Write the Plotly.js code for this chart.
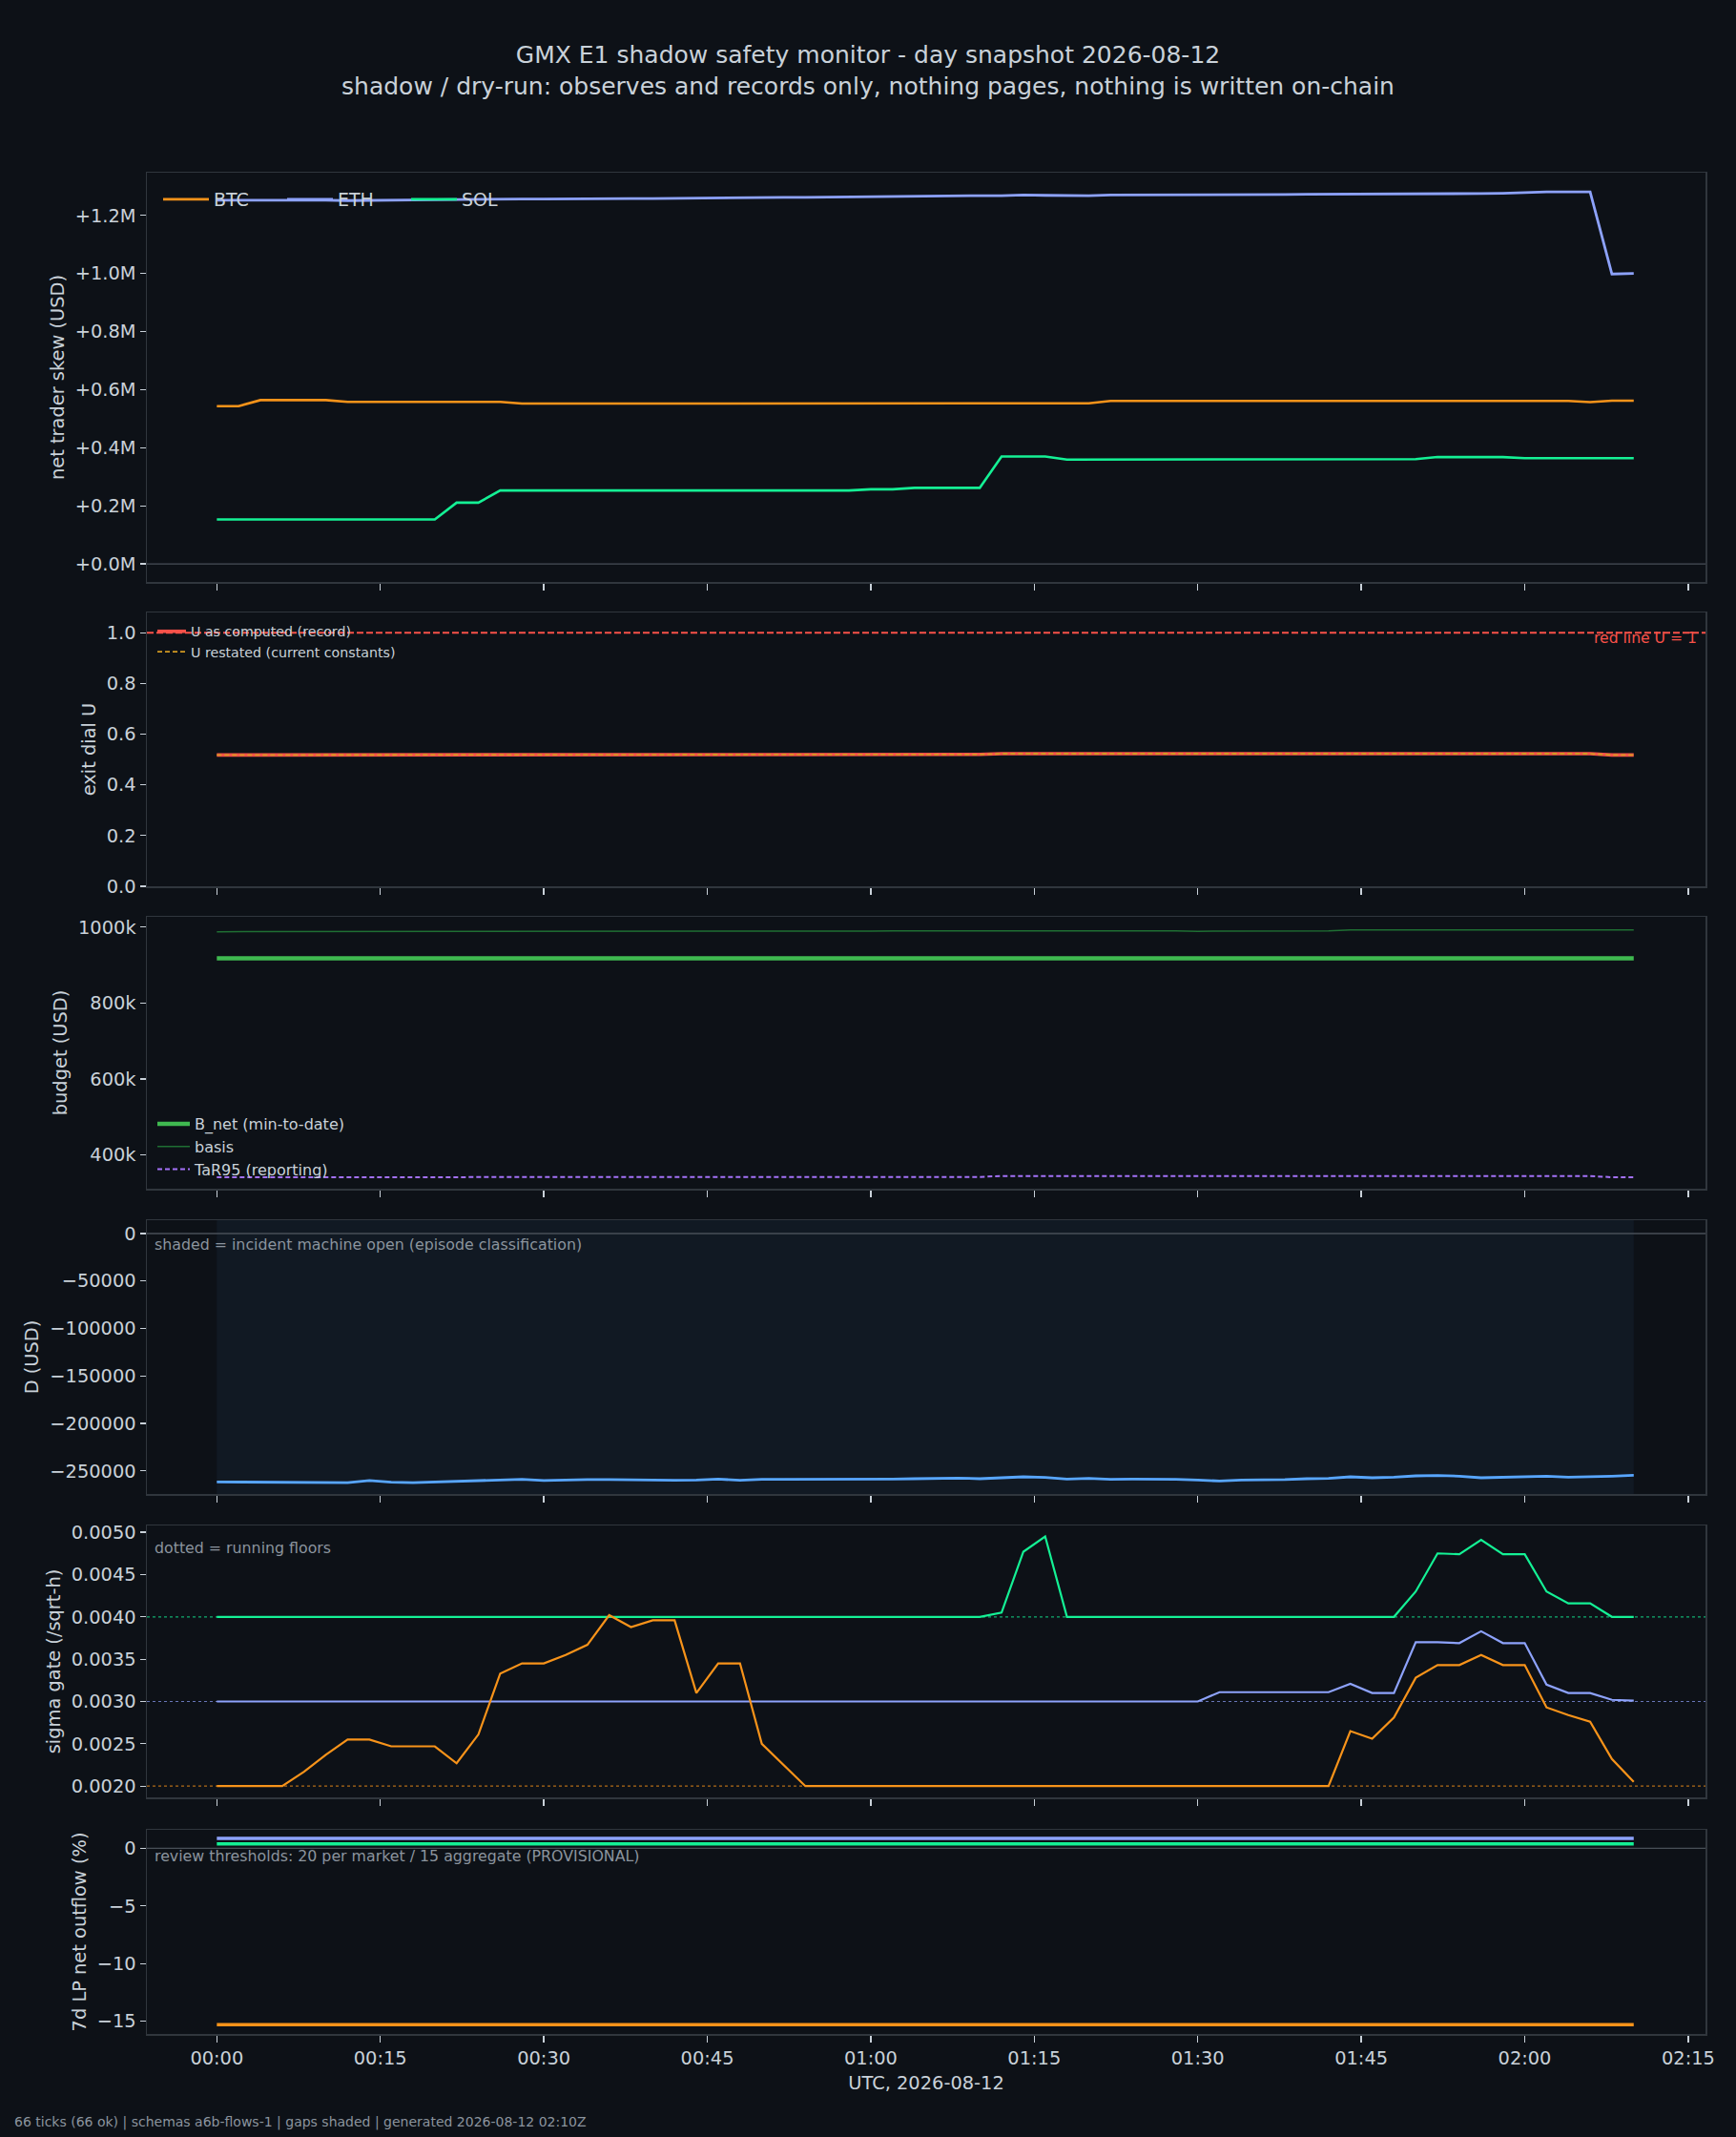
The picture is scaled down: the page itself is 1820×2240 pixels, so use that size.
<!DOCTYPE html>
<html>
<head>
<meta charset="utf-8">
<script src="https://cdn.plot.ly/plotly-3.0.1.min.js"></script>
<style>
  html, body { margin: 0; padding: 0; background: #0d1117; }
  #chart { width: 1820px; height: 2240px; }
</style>
</head>
<body>
<div id="chart"></div>
<script>
// 66 ticks, 2 minutes apart, UTC 2026-08-12
const day = '2026-08-12';
const times = [
  '00:00','00:02','00:04','00:06','00:08','00:10','00:12','00:14','00:16','00:18',
  '00:20','00:22','00:24','00:26','00:28','00:30','00:32','00:34','00:36','00:38',
  '00:40','00:42','00:44','00:46','00:48','00:50','00:52','00:54','00:56','00:58',
  '01:00','01:02','01:04','01:06','01:08','01:10','01:12','01:14','01:16','01:18',
  '01:20','01:22','01:24','01:26','01:28','01:30','01:32','01:34','01:36','01:38',
  '01:40','01:42','01:44','01:46','01:48','01:50','01:52','01:54','01:56','01:58',
  '02:00','02:02','02:04','02:06','02:08','02:10'
];

// net trader skew (USD)
const skewBTC = [
  543000,543000,564000,564000,564000,564000,558000,558000,558000,558000,
  558000,558000,558000,558000,552000,552000,552000,552000,552000,552000,
  552000,552000,552000,552000,552000,552000,552000,552000,552000,553000,
  553000,553000,553000,553000,553000,553000,553000,553000,553000,553000,
  553000,561000,561000,561000,561000,561000,561000,561000,561000,561000,
  561000,561000,561000,561000,561000,561000,561000,561000,561000,561000,
  561000,561000,561000,557000,562000,562000
];
const skewETH = [
  1252000,1252000,1253000,1254000,1253000,1252000,1251000,1251000,1252000,1253000,
  1254000,1255000,1254000,1255000,1256000,1256000,1257000,1258000,1259000,1258000,
  1258000,1259000,1260000,1260000,1261000,1261000,1262000,1262000,1263000,1263000,
  1265000,1266000,1266000,1266000,1267000,1268000,1268000,1270000,1269000,1268000,
  1268000,1270000,1270000,1271000,1270000,1271000,1271000,1272000,1272000,1272000,
  1273000,1273000,1275000,1274000,1274000,1274000,1274000,1275000,1275000,1276000,
  1279000,1281000,1281000,1281000,998000,1000000
];
const skewSOL = [
  153000,153000,153000,153000,153000,153000,153000,153000,153000,153000,
  153000,211000,211000,253000,253000,253000,253000,253000,253000,253000,
  253000,253000,253000,253000,253000,253000,253000,253000,253000,253000,
  257000,257000,262000,262000,262000,262000,370000,370000,370000,359000,
  359000,359000,359000,359000,359000,359000,359000,359000,359000,359000,
  359000,361000,361000,361000,361000,361000,368000,368000,368000,368000,
  364000,364000,364000,364000,364000,364000
];
const skewTicks = [0, 200000, 400000, 600000, 800000, 1000000, 1200000];
const skewTickText = ['+0.0M','+0.2M','+0.4M','+0.6M','+0.8M','+1.0M','+1.2M'];

// exit dial U
const uComputed = [
  0.518,0.518,0.518,0.518,0.518,0.518,0.518,0.518,0.518,0.518,
  0.518,0.520,0.520,0.520,0.520,0.520,0.520,0.520,0.520,0.520,
  0.520,0.520,0.520,0.520,0.520,0.520,0.520,0.520,0.520,0.520,
  0.520,0.520,0.520,0.520,0.520,0.520,0.523,0.523,0.523,0.523,
  0.523,0.523,0.523,0.523,0.523,0.523,0.523,0.523,0.523,0.523,
  0.523,0.523,0.523,0.523,0.523,0.523,0.523,0.523,0.523,0.523,
  0.523,0.523,0.523,0.523,0.518,0.518
];
const uRestated = [
  0.518,0.518,0.518,0.518,0.518,0.518,0.518,0.518,0.518,0.518,
  0.518,0.520,0.520,0.520,0.520,0.520,0.520,0.520,0.520,0.520,
  0.520,0.520,0.520,0.520,0.520,0.520,0.520,0.520,0.520,0.520,
  0.520,0.520,0.520,0.520,0.520,0.520,0.523,0.523,0.523,0.523,
  0.523,0.523,0.523,0.523,0.523,0.523,0.523,0.523,0.523,0.523,
  0.523,0.523,0.523,0.523,0.523,0.523,0.523,0.523,0.523,0.523,
  0.523,0.523,0.523,0.523,0.518,0.518
];
const uRedLine = 1.0;

// budget (USD)
const bNet = [
  918000,918000,918000,918000,918000,918000,918000,918000,918000,918000,
  918000,918000,918000,918000,918000,918000,918000,918000,918000,918000,
  918000,918000,918000,918000,918000,918000,918000,918000,918000,918000,
  918000,918000,918000,918000,918000,918000,918000,918000,918000,918000,
  918000,918000,918000,918000,918000,918000,918000,918000,918000,918000,
  918000,918000,918000,918000,918000,918000,918000,918000,918000,918000,
  918000,918000,918000,918000,918000,918000
];
const basis = [
  987700,987700,987700,987700,987700,987700,987700,988100,988100,988100,
  988100,988900,988900,988900,988900,988900,988900,988900,989400,989400,
  989400,989400,989400,989400,989400,989400,989400,989400,989400,989400,
  989400,990200,990200,990200,990200,990200,990200,991500,990200,990200,
  990200,990200,990200,990200,990200,989000,989000,989000,990000,990000,
  990000,990000,992300,992300,992300,992300,992300,991000,991000,991000,
  992700,992700,992700,992700,992700,992700
];
const tar95 = [
  341200,341200,341200,341200,341200,341200,341200,341200,341200,341200,
  341200,342000,342000,342000,342000,342000,342000,342000,342000,342000,
  342000,342000,342000,342000,342000,342000,342000,342000,342000,342000,
  342000,342000,342000,342000,342000,342000,344500,344500,344500,344500,
  344500,344500,344500,344500,344500,344500,344500,344500,344500,344500,
  344500,344500,344500,344500,344500,344500,344500,344500,344500,344500,
  344500,344500,344500,344500,341200,341200
];
const budgetTicks = [400000, 600000, 800000, 1000000];
const budgetTickText = ['400k','600k','800k','1000k'];

// D (USD)
const dUsd = [
  -261700,-261700,-261700,-262000,-262000,-262400,-262400,-260300,-262000,-262400,
  -261700,-261000,-260700,-259300,-259000,-260300,-259700,-259300,-259300,-259700,
  -259700,-260000,-259700,-258700,-260000,-259000,-259000,-259000,-259300,-259300,
  -258700,-258700,-258300,-257600,-257600,-258300,-257300,-256300,-257000,-258700,
  -258000,-259000,-258700,-258700,-259000,-259700,-260700,-259700,-259700,-259300,
  -258300,-258000,-256300,-257300,-256600,-255300,-254900,-255600,-257300,-256600,
  -256300,-255600,-256600,-256300,-255600,-254600
];
const incidentOpen = ['00:00', '02:10'];

// sigma gate (/sqrt-h)
const sigmaBTC = [
  0.00200,0.00200,0.00200,0.00200,0.00217,0.00237,0.00255,0.00255,0.00247,0.00247,
  0.00247,0.00227,0.00261,0.00333,0.00345,0.00345,0.00355,0.00367,0.00402,0.00388,
  0.00396,0.00396,0.00310,0.00345,0.00345,0.00250,0.00225,0.00200,0.00200,0.00200,
  0.00200,0.00200,0.00200,0.00200,0.00200,0.00200,0.00200,0.00200,0.00200,0.00200,
  0.00200,0.00200,0.00200,0.00200,0.00200,0.00200,0.00200,0.00200,0.00200,0.00200,
  0.00200,0.00200,0.00265,0.00256,0.00281,0.00328,0.00343,0.00343,0.00355,0.00343,
  0.00343,0.00293,0.00284,0.00276,0.00232,0.00205
];
const sigmaETH = [
  0.00300,0.00300,0.00300,0.00300,0.00300,0.00300,0.00300,0.00300,0.00300,0.00300,
  0.00300,0.00300,0.00300,0.00300,0.00300,0.00300,0.00300,0.00300,0.00300,0.00300,
  0.00300,0.00300,0.00300,0.00300,0.00300,0.00300,0.00300,0.00300,0.00300,0.00300,
  0.00300,0.00300,0.00300,0.00300,0.00300,0.00300,0.00300,0.00300,0.00300,0.00300,
  0.00300,0.00300,0.00300,0.00300,0.00300,0.00300,0.00311,0.00311,0.00311,0.00311,
  0.00311,0.00311,0.00321,0.00310,0.00310,0.00370,0.00370,0.00369,0.00383,0.00369,
  0.00369,0.00320,0.00310,0.00310,0.00302,0.00301
];
const sigmaSOL = [
  0.00400,0.00400,0.00400,0.00400,0.00400,0.00400,0.00400,0.00400,0.00400,0.00400,
  0.00400,0.00400,0.00400,0.00400,0.00400,0.00400,0.00400,0.00400,0.00400,0.00400,
  0.00400,0.00400,0.00400,0.00400,0.00400,0.00400,0.00400,0.00400,0.00400,0.00400,
  0.00400,0.00400,0.00400,0.00400,0.00400,0.00400,0.00405,0.00477,0.00495,0.00400,
  0.00400,0.00400,0.00400,0.00400,0.00400,0.00400,0.00400,0.00400,0.00400,0.00400,
  0.00400,0.00400,0.00400,0.00400,0.00400,0.00430,0.00475,0.00474,0.00491,0.00474,
  0.00474,0.00430,0.00416,0.00416,0.00400,0.00400
];
const sigmaFloors = { BTC: 0.0020, ETH: 0.0030, SOL: 0.0040 };

// 7d LP net outflow (%)
const lpBTC = [
  -15.3,-15.3,-15.3,-15.3,-15.3,-15.3,-15.3,-15.3,-15.3,-15.3,
  -15.3,-15.3,-15.3,-15.3,-15.3,-15.3,-15.3,-15.3,-15.3,-15.3,
  -15.3,-15.3,-15.3,-15.3,-15.3,-15.3,-15.3,-15.3,-15.3,-15.3,
  -15.3,-15.3,-15.3,-15.3,-15.3,-15.3,-15.3,-15.3,-15.3,-15.3,
  -15.3,-15.3,-15.3,-15.3,-15.3,-15.3,-15.3,-15.3,-15.3,-15.3,
  -15.3,-15.3,-15.3,-15.3,-15.3,-15.3,-15.3,-15.3,-15.3,-15.3,
  -15.3,-15.3,-15.3,-15.3,-15.3,-15.3
];
const lpETH = [
  0.85,0.85,0.85,0.85,0.85,0.85,0.85,0.85,0.85,0.85,
  0.85,0.85,0.85,0.85,0.85,0.85,0.85,0.85,0.85,0.85,
  0.85,0.85,0.85,0.85,0.85,0.85,0.85,0.85,0.85,0.85,
  0.85,0.85,0.85,0.85,0.85,0.85,0.85,0.85,0.85,0.85,
  0.85,0.85,0.85,0.85,0.85,0.85,0.85,0.85,0.85,0.85,
  0.85,0.85,0.85,0.85,0.85,0.85,0.85,0.85,0.85,0.85,
  0.85,0.85,0.85,0.85,0.85,0.85
];
const lpSOL = [
  0.38,0.38,0.38,0.38,0.38,0.38,0.38,0.38,0.38,0.38,
  0.38,0.38,0.38,0.38,0.38,0.38,0.38,0.38,0.38,0.38,
  0.38,0.38,0.38,0.38,0.38,0.38,0.38,0.38,0.38,0.38,
  0.38,0.38,0.38,0.38,0.38,0.38,0.38,0.38,0.38,0.38,
  0.38,0.38,0.38,0.38,0.38,0.38,0.38,0.38,0.38,0.38,
  0.38,0.38,0.38,0.38,0.38,0.38,0.38,0.38,0.38,0.38,
  0.38,0.38,0.38,0.38,0.38,0.38
];

const titleLine1 = 'GMX E1 shadow safety monitor - day snapshot 2026-08-12';
const titleLine2 = 'shadow / dry-run: observes and records only, nothing pages, nothing is written on-chain';
const footer = '66 ticks (66 ok) | schemas a6b-flows-1 | gaps shaded | generated 2026-08-12 02:10Z';

// ---- styling ----
const W = 1820, H = 2240;
const BG = '#0d1117', FG = '#c9d1d9', MUTED = '#8b949e', SPINE = '#30363d', ZERO = '#484f58';
const C = { BTC: '#f7931a', ETH: '#8da2fb', SOL: '#14f195' };
const FONT = 'DejaVu Sans, sans-serif';
const TICK = 19.4;

const px = v => v / W;
const py = v => 1 - v / H;
const x = times.map(t => day + ' ' + t);
const at = t => day + ' ' + t;

// panel boxes in pixels, top / bottom
const panels = [[181, 610], [642, 929], [961, 1246], [1279, 1566], [1599, 1884], [1918, 2132]];

function line(y, name, color, width, n, extra) {
  return Object.assign({
    type: 'scatter', mode: 'lines', x, y, name,
    line: { color, width },
    xaxis: 'x' + (n === 1 ? '' : n), yaxis: 'y' + (n === 1 ? '' : n),
    showlegend: false
  }, extra || {});
}

const traces = [
  line(skewBTC, 'BTC', C.BTC, 2.6, 1, { showlegend: true, legend: 'legend' }),
  line(skewETH, 'ETH', C.ETH, 2.8, 1, { showlegend: true, legend: 'legend' }),
  line(skewSOL, 'SOL', C.SOL, 2.6, 1, { showlegend: true, legend: 'legend' }),

  line(uComputed, 'U as computed (record)', '#f85149', 3.6, 2, { showlegend: true, legend: 'legend2' }),
  line(uRestated, 'U restated (current constants)', '#d29922', 1.8, 2, { showlegend: true, legend: 'legend2', line: { color: '#d29922', width: 1.8, dash: '5px,3px' } }),

  line(bNet, 'B_net (min-to-date)', '#3fb950', 4.5, 3, { showlegend: true, legend: 'legend3' }),
  line(basis, 'basis', '#1f6f33', 1.5, 3, { showlegend: true, legend: 'legend3' }),
  line(tar95, 'TaR95 (reporting)', '#a371f7', 2, 3, { showlegend: true, legend: 'legend3', line: { color: '#a371f7', width: 2, dash: '5px,3px' } }),

  line(dUsd, 'D', '#58a6ff', 2.8, 4),

  line(sigmaSOL, 'SOL', C.SOL, 2.2, 5),
  line(sigmaETH, 'ETH', C.ETH, 2.2, 5),
  line(sigmaBTC, 'BTC', C.BTC, 2.2, 5),

  line(lpETH, 'ETH', C.ETH, 3.5, 6),
  line(lpSOL, 'SOL', C.SOL, 3.5, 6),
  line(lpBTC, 'BTC', C.BTC, 3.5, 6)
];

const layout = {
  width: W, height: H,
  paper_bgcolor: BG, plot_bgcolor: BG,
  margin: { l: 0, r: 0, t: 0, b: 0 },
  font: { family: FONT, color: FG, size: TICK },
  title: {
    text: titleLine1 + '<br>' + titleLine2,
    x: 0.5, xanchor: 'center', xref: 'paper',
    y: py(66), yanchor: 'middle', yref: 'container',
    font: { family: FONT, size: 25, color: FG }
  },
  legend: {
    orientation: 'h', x: px(166), y: py(190), xanchor: 'left', yanchor: 'top',
    bgcolor: 'rgba(0,0,0,0)', font: { size: 19, color: FG },
    itemwidth: 48, entrywidth: 67
  },
  legend2: {
    x: px(160), y: py(646), xanchor: 'left', yanchor: 'top',
    bgcolor: 'rgba(0,0,0,0)', font: { size: 14.2, color: FG }, tracegroupgap: 0
  },
  legend3: {
    x: px(160), y: py(1161), xanchor: 'left', yanchor: 'top',
    bgcolor: 'rgba(0,0,0,0)', font: { size: 16, color: FG }, itemwidth: 34
  },
  shapes: [],
  annotations: []
};

const yTitles = ['net trader skew (USD)', 'exit dial U', 'budget (USD)', 'D (USD)', 'sigma gate (/sqrt-h)', '7d LP net outflow (%)'];
const yRanges = [[-62000, 1347000], [0, 1.08], [311000, 1027000], [-274400, 14000], [0.001867, 0.00508], [-16.1, 1.6]];

panels.forEach((p, i) => {
  const n = i + 1, s = n === 1 ? '' : n;
  layout['xaxis' + s] = {
    type: 'date', domain: [px(154), px(1788)], anchor: 'y' + s,
    range: ['2026-08-11 23:53:35', '2026-08-12 02:16:35'],
    tick0: at('00:00'), dtick: 15 * 60 * 1000, tickformat: '%H:%M',
    ticks: 'outside', ticklen: 7, tickwidth: 1.3, tickcolor: FG,
    showticklabels: n === 6, tickfont: { size: TICK, color: FG },
    showline: true, mirror: true, linecolor: SPINE, linewidth: 1.5,
    showgrid: false, zeroline: false
  };
  if (n !== 1) layout['xaxis' + s].matches = 'x';
  layout['yaxis' + s] = {
    domain: [py(p[1]), py(p[0])], anchor: 'x' + s, range: yRanges[i],
    ticks: 'outside', ticklen: 6, tickwidth: 1.3, tickcolor: FG,
    tickfont: { size: TICK, color: FG },
    showline: true, mirror: true, linecolor: SPINE, linewidth: 1.5,
    showgrid: false, zeroline: false,
    title: { text: yTitles[i], font: { size: TICK, color: FG }, standoff: 6 }
  };
});
layout.xaxis6.title = { text: 'UTC, 2026-08-12', font: { size: TICK, color: FG }, standoff: 8 };

Object.assign(layout.yaxis, { tickvals: skewTicks, ticktext: skewTickText });
Object.assign(layout.yaxis2, { dtick: 0.2, tick0: 0, tickformat: '.1f' });
Object.assign(layout.yaxis3, { tickvals: budgetTicks, ticktext: budgetTickText });
Object.assign(layout.yaxis4, { dtick: 50000, tick0: 0, tickformat: 'd' });
Object.assign(layout.yaxis5, { dtick: 0.0005, tick0: 0, tickformat: '.4f' });
Object.assign(layout.yaxis6, { dtick: 5, tick0: 0, tickformat: 'd' });

function hline(axis, y, color, width, dash, layer) {
  return {
    type: 'line', xref: 'x' + axis + ' domain', x0: 0, x1: 1,
    yref: 'y' + axis, y0: y, y1: y,
    line: { color, width, dash: dash || 'solid' }, layer: layer || 'below'
  };
}
layout.shapes.push(
  hline('', 0, ZERO, 1.4),
  hline('2', uRedLine, '#f85149', 2, '7px,3px', 'above'),
  {
    type: 'rect', xref: 'x4', x0: at(incidentOpen[0]), x1: at(incidentOpen[1]),
    yref: 'y4 domain', y0: 0, y1: 1,
    fillcolor: 'rgba(88,166,255,0.055)', line: { width: 0 }, layer: 'below'
  },
  hline('4', 0, ZERO, 1.4),
  Object.assign(hline('5', sigmaFloors.BTC, C.BTC, 1.2, 'dot'), { opacity: 0.7 }),
  Object.assign(hline('5', sigmaFloors.ETH, C.ETH, 1.2, 'dot'), { opacity: 0.7 }),
  Object.assign(hline('5', sigmaFloors.SOL, C.SOL, 1.2, 'dot'), { opacity: 0.7 }),
  hline('6', 0, ZERO, 1.4)
);

function note(text, xPx, yPx, color, size, xanchor) {
  return {
    text, xref: 'paper', yref: 'paper', x: px(xPx), y: py(yPx),
    xanchor: xanchor || 'left', yanchor: 'middle', showarrow: false,
    font: { family: FONT, size, color }
  };
}
layout.annotations.push(
  note('red line U = 1', 1781, 669, '#f85149', 15.6, 'right'),
  note('shaded = incident machine open (episode classification)', 160, 1304, MUTED, 15.8),
  note('dotted = running floors', 160, 1622, MUTED, 15.8),
  note('review thresholds: 20 per market / 15 aggregate (PROVISIONAL)', 160, 1945, MUTED, 15.8),
  note(footer, 13, 2224, MUTED, 14)
);

Plotly.newPlot('chart', traces, layout, { staticPlot: true });
</script>
</body>
</html>
